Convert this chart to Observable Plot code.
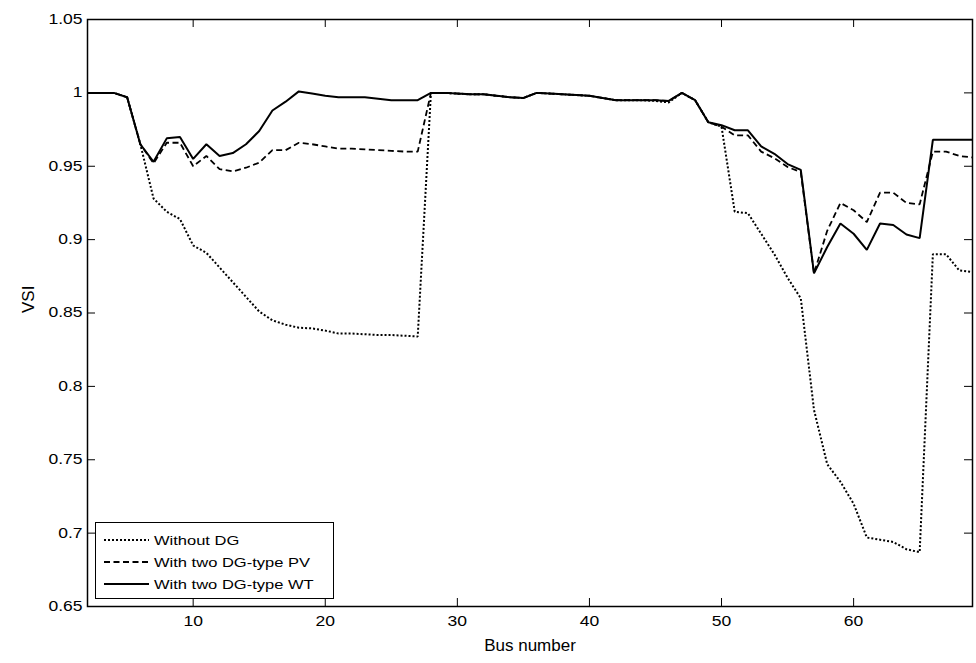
<!DOCTYPE html>
<html><head><meta charset="utf-8">
<script src="https://cdn.jsdelivr.net/npm/d3@7"></script>
<script src="https://cdn.jsdelivr.net/npm/@observablehq/plot@0.6"></script>
<style>body{margin:0;background:#fff}</style>
</head><body><div id="chart"></div>
<script>
const bus = [2,3,4,5,6,7,8,9,10,11,12,13,14,15,16,17,18,19,20,21,22,23,24,25,26,27,28,29,30,31,32,33,34,35,36,37,38,39,40,41,42,43,44,45,46,47,48,49,50,51,52,53,54,55,56,57,58,59,60,61,62,63,64,65,66,67,68,69];
const withoutDG = [1.0,1.0,1.0,0.997,0.965,0.928,0.919,0.914,0.896,0.891,0.881,0.871,0.861,0.851,0.845,0.842,0.840,0.8395,0.838,0.836,0.836,0.8355,0.835,0.835,0.8345,0.834,
  1.0,1.0,0.9995,0.999,0.999,0.998,0.997,0.9965,1.0,0.9995,0.999,0.9985,0.998,0.9965,0.995,0.995,0.995,0.9945,0.9935,1.0,0.995,
  0.980,0.977,0.919,0.918,0.904,0.890,0.874,0.860,0.784,0.747,0.735,0.720,0.697,0.6955,0.694,0.689,0.687,0.890,0.890,0.879,0.878];
const pvDG = [1.0,1.0,1.0,0.997,0.965,0.952,0.966,0.966,0.950,0.957,0.948,0.9465,0.949,0.9525,0.961,0.961,0.966,0.965,0.9635,0.962,0.962,0.9615,0.961,0.9605,0.960,0.960,
  1.0,1.0,0.9995,0.999,0.999,0.998,0.997,0.9965,1.0,0.9995,0.999,0.9985,0.998,0.9965,0.995,0.995,0.995,0.995,0.9945,1.0,0.995,
  0.980,0.977,0.971,0.971,0.960,0.9555,0.9495,0.946,0.877,0.906,0.925,0.920,0.912,0.932,0.932,0.925,0.924,0.960,0.960,0.957,0.956];
const wtDG = [1.0,1.0,1.0,0.997,0.965,0.953,0.969,0.970,0.955,0.965,0.957,0.959,0.965,0.974,0.988,0.994,1.001,0.9995,0.998,0.997,0.997,0.997,0.996,0.995,0.995,0.995,
  1.0,1.0,0.9995,0.999,0.999,0.998,0.997,0.9965,1.0,0.9995,0.999,0.9985,0.998,0.9965,0.995,0.995,0.995,0.995,0.9945,1.0,0.995,
  0.980,0.978,0.9745,0.9745,0.9635,0.9585,0.9515,0.9475,0.877,0.895,0.911,0.904,0.893,0.911,0.910,0.9035,0.901,0.968,0.968,0.968,0.968];
const seriesNames = ["Without DG","With two DG-type PV","With two DG-type WT"];
const xTicks = [10,20,30,40,50,60];
const yTicks = [0.65,0.7,0.75,0.8,0.85,0.9,0.95,1,1.05];
const yTickLabels = ["0.65","0.7","0.75","0.8","0.85","0.9","0.95","1","1.05"];
const xLabel = "Bus number";
const yLabel = "VSI";

const W = 976, H = 663, mL = 87, mR = 4, mT = 19, mB = 57;
const innerW = W - mL - mR, innerH = H - mT - mB;
const dashes = ["2,2", "6,3.5", null];
const widths = [2, 1.8, 2];
const series = [withoutDG, pvDG, wtDG];
const rows = (vals, name) => bus.map((b, i) => ({bus: b, vsi: vals[i], name}));

const plot = Plot.plot({
  width: W, height: H,
  marginLeft: mL, marginRight: mR, marginTop: mT, marginBottom: mB,
  style: {fontFamily: "'Liberation Sans', Arial, sans-serif", fontSize: "14px", color: "#000", background: "#fff"},
  x: {domain: [2, 69]},
  y: {domain: [0.65, 1.05]},
  marks: [
    ...series.map((vals, k) => Plot.line(rows(vals, seriesNames[k]), {
      x: "bus", y: "vsi", stroke: "#000", strokeWidth: widths[k],
      strokeDasharray: dashes[k] ?? undefined, strokeLinejoin: "miter", strokeLinecap: "butt"
    })),
    Plot.frame({stroke: "#000", strokeWidth: 1.5}),
    Plot.tickX(xTicks, {x: d => d, insetTop: innerH - 8, stroke: "#000"}),
    Plot.tickX(xTicks, {x: d => d, insetBottom: innerH - 8, stroke: "#000"}),
    Plot.tickY(yTicks, {y: d => d, insetRight: innerW - 8, stroke: "#000"}),
    Plot.tickY(yTicks, {y: d => d, insetLeft: innerW - 8, stroke: "#000"}),
    Plot.axisX(xTicks, {tickSize: 0, tickPadding: 10, label: null, fontSize: 14}),
    Plot.axisY(yTicks, {tickSize: 0, tickPadding: 5, label: null, fontSize: 14,
      tickFormat: d => yTickLabels[yTicks.indexOf(d)]}),
    Plot.text([xLabel], {frameAnchor: "bottom", dy: 44, fontSize: 17}),
    Plot.text([yLabel], {frameAnchor: "left", dx: -59, rotate: -90, fontSize: 17})
  ]
});
document.getElementById("chart").appendChild(plot);

// legend
const svg = d3.select(plot);
const lg = svg.append("g").attr("class", "legend").attr("text-anchor", "start");
lg.append("rect").attr("x", 95.5).attr("y", 522.5).attr("width", 238).attr("height", 76)
  .attr("fill", "#fff").attr("stroke", "#000").attr("stroke-width", 1);
const ly = [540, 562, 584];
seriesNames.forEach((name, k) => {
  const ln = lg.append("line").attr("x1", 104).attr("x2", 149).attr("y1", ly[k]).attr("y2", ly[k])
    .attr("stroke", "#000").attr("stroke-width", widths[k]).attr("stroke-linecap", "butt");
  if (dashes[k]) ln.attr("stroke-dasharray", dashes[k]);
  lg.append("text").attr("x", 154).attr("y", ly[k]).attr("dy", "0.35em")
    .attr("text-anchor", "start")
    .attr("font-size", 13).attr("fill", "#000").text(name);
});

// widen glyphs slightly to match reference
function stretch(sel, f) {
  sel.each(function() {
    const len = this.getComputedTextLength();
    if (len > 0) {
      this.setAttribute("textLength", (len * f).toFixed(1));
      this.setAttribute("lengthAdjust", "spacingAndGlyphs");
    }
  });
}
stretch(svg.selectAll('g[aria-label="x-axis tick label"] text, g[aria-label="y-axis tick label"] text'), 1.25);
stretch(lg.selectAll("text"), 1.27);
</script>
</body></html>
